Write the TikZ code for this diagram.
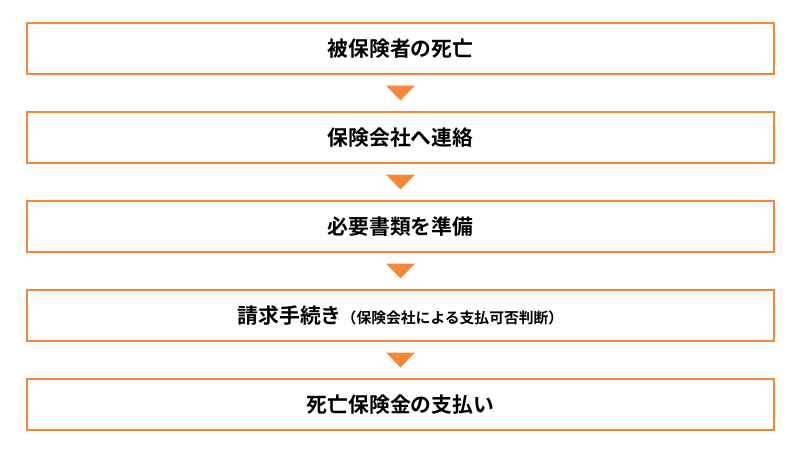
\documentclass[tikz,border=0pt]{standalone}
\usepackage{fontspec}
\setmainfont{Noto Sans CJK JP}[BoldFont={* Bold}]
\usetikzlibrary{calc}
\definecolor{org}{RGB}{245,136,56}
\begin{document}
\begin{tikzpicture}[x=1pt,y=-1pt,
  box/.style={draw=org,line width=2pt,minimum width=747pt,minimum height=51pt,inner sep=0pt,anchor=north west,font=\bfseries\fontsize{20.8}{21}\selectfont},
  tri/.style={fill=org}]
\useasboundingbox (0,0) rectangle (800,450);
\node[box] (b1) at (26,22) {被保険者の死亡};
\node[box] (b2) at (26,111) {保険会社へ連絡};
\node[box] (b3) at (26,200) {必要書類を準備};
\node[box] (b4) at (26,289) {請求手続き{\fontsize{14.8}{15}\selectfont（保険会社による支払可否判断）}};
\node[box] (b5) at (26,378) {死亡保険金の支払い};
\foreach \a/\b in {b1/b2,b2/b3,b3/b4,b4/b5}{
  \fill[tri] ($(\a.south)!0.5!(\b.north)+(-14.5,-7.5)$) -- ++(29,0) -- ++(-14.5,15) -- cycle;
}
\end{tikzpicture}
\end{document}
